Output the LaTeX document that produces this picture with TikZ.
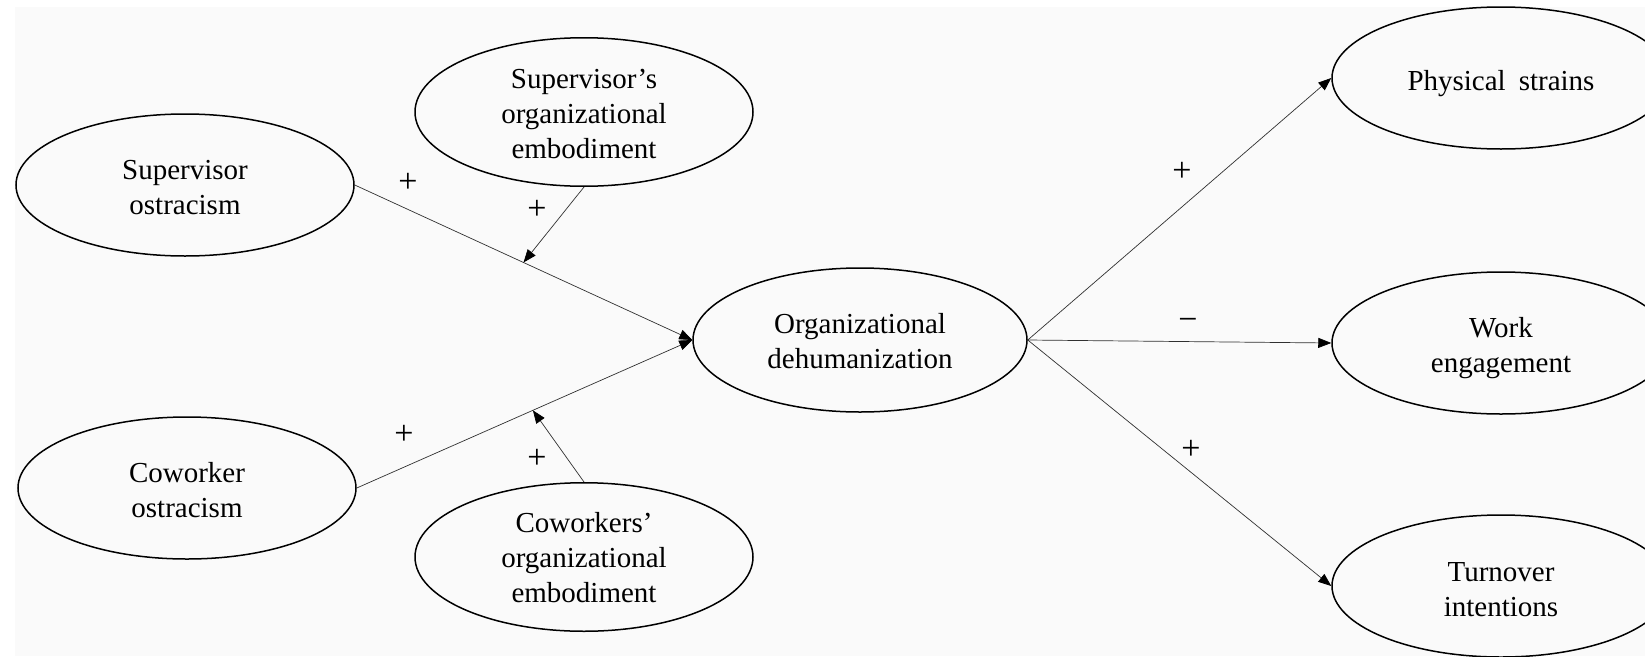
\documentclass[tikz,border=0pt]{standalone}
\usepackage{fontspec}
\setmainfont{Liberation Serif}
\usetikzlibrary{shapes.geometric,arrows.meta,calc}
\definecolor{bgray}{HTML}{FAFAFA}
\definecolor{linec}{HTML}{303030}
\newcommand{\lowertext}[2]{\raisebox{-#1}[\height][\depth]{\begin{tabular}{@{}c@{}}#2\end{tabular}}}
\tikzset{
  construct/.style={ellipse, draw=black, line width=1.5pt, inner sep=0pt,
    minimum width=338pt, minimum height=142pt, align=center,
    font=\fontsize{29}{35}\selectfont},
  path arrow/.style={draw=linec, line width=0.7pt,
    -{Triangle[length=13pt,width=10pt,fill=black,color=black]}},
  sign/.style={font=\fontsize{34}{35}\selectfont, inner sep=0pt}
}
\begin{document}
\begin{tikzpicture}[x=1pt,y=-1pt]
\useasboundingbox (0,0) rectangle (1645,656);
\clip (0,0) rectangle (1645,656);
\fill[white] (0,0) rectangle (1645,656);
\fill[bgray] (15,7) rectangle (1645,656);

\node[construct] (supo) at (185,185) {\lowertext{5pt}{Supervisor\\ostracism}};
\node[construct] (supemb) at (584,112) {\lowertext{4pt}{Supervisor’s\\organizational\\embodiment}};
\node[construct] (cowo) at (187,488) {\lowertext{5pt}{Coworker\\ostracism}};
\node[construct] (cowemb) at (584,557) {\lowertext{3.5pt}{Coworkers’\\organizational\\embodiment}};
\node[construct, minimum width=334pt, minimum height=144pt] (dehum) at (860,340) {\lowertext{4pt}{Organizational\\dehumanization}};
\node[construct] (phys) at (1501,78) {\lowertext{5pt}{Physical\hspace{0.45em}strains}};
\node[construct] (work) at (1501,343) {\lowertext{5pt}{Work\\engagement}};
\node[construct] (turn) at (1501,586) {\lowertext{5.5pt}{Turnover\\intentions}};

\draw[path arrow] (supo.east) -- (dehum.west);
\draw[path arrow] (cowo.east) -- (dehum.west);
\coordinate (m1) at ($(supo.east)!0.5!(dehum.west)$);
\coordinate (m2) at ($(cowo.east)!0.525!(dehum.west)$);
\draw[path arrow] (supemb.south) -- (m1);
\draw[path arrow] (cowemb.north) -- (m2);

\draw[path arrow] (dehum.east) -- (phys.west);
\draw[path arrow] (dehum.east) -- (work.west);
\draw[path arrow] (dehum.east) -- (turn.west);

\node[sign] (s1) at (408,183) {+};
\node[sign] (s2) at (537,210) {+};
\node[sign] (s3) at (404,435) {+};
\node[sign] (s4) at (537,459) {+};
\node[sign] (s5) at (1182,172) {+};
\node[sign] (s6) at (1188,324) {−};
\node[sign] (s7) at (1191,450) {+};
\end{tikzpicture}
\end{document}
